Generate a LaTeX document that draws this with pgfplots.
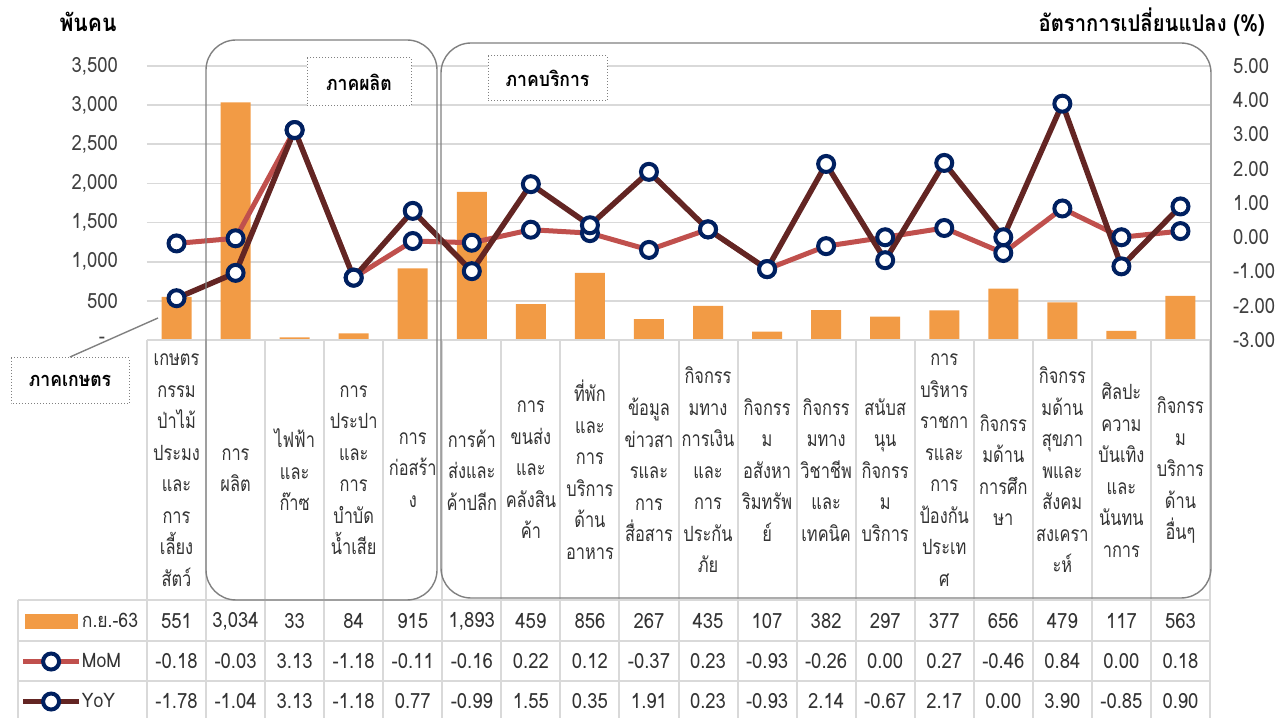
\documentclass[border=0pt]{standalone}
\usepackage{pgfplots}
\pgfplotsset{compat=1.18}
\usepackage{pgfplotstable}
\usepackage{fontspec}
\setmainfont{Loma}[Script=Thai, FakeStretch=0.88]
\newfontfamily\catthai{Loma}[Script=Thai, FakeStretch=0.78]

\definecolor{barorange}{HTML}{F29B45}
\definecolor{momred}{HTML}{C0504D}
\definecolor{yoyred}{HTML}{632523}
\definecolor{navy}{HTML}{002060}
\definecolor{gridgray}{HTML}{D9D9D9}
\definecolor{boxgray}{HTML}{808080}

\newcommand\catfont{\catthai\fontsize{10.5}{15.75}\selectfont}
\newcommand\numfont{\fontsize{10.5}{12}\selectfont}

% x  ก.ย.-63 (พันคน)  MoM (%)  YoY (%)
\pgfplotstableread{
x sep mom yoy
0  551  -0.18 -1.78
1  3034 -0.03 -1.04
2  33    3.13  3.13
3  84   -1.18 -1.18
4  915  -0.11  0.77
5  1893 -0.16 -0.99
6  459   0.22  1.55
7  856   0.12  0.35
8  267  -0.37  1.91
9  435   0.23  0.23
10 107  -0.93 -0.93
11 382  -0.26  2.14
12 297   0.00 -0.67
13 377   0.27  2.17
14 656  -0.46  0.00
15 479   0.84  3.90
16 117   0.00 -0.85
17 563   0.18  0.90
}\datatable

\begin{document}
\begin{tikzpicture}
\path[use as bounding box] (0,0) rectangle (643.5pt,359pt);

% bars, left axis
\begin{axis}[
  at={(73.5pt,189pt)}, anchor=south west,
  scale only axis, width=531.5pt, height=137pt,
  xmin=-0.5, xmax=17.5, ymin=0, ymax=3500,
  xtick=\empty,
  ytick={0,500,...,3500},
  yticklabels={-\hspace*{6.5pt},500,{1,000},{1,500},{2,000},{2,500},{3,000},{3,500}},
  yticklabel style={font=\numfont, text=black!75, xshift=-11pt},
  major tick length=0pt,
  axis line style={draw=none},
  ymajorgrids, grid style={gridgray, line width=0.8pt},
  ybar, bar width=15pt,
]
\addplot[fill=barorange, draw=none] table[x=x, y=sep] {\datatable};
\end{axis}

% lines, right axis
\begin{axis}[
  at={(73.5pt,189pt)}, anchor=south west,
  scale only axis, width=531.5pt, height=137pt,
  xmin=-0.5, xmax=17.5, ymin=-3, ymax=5,
  hide x axis,
  axis y line*=right,
  axis line style={draw=none},
  major tick length=0pt,
  ytick={-3,-2,...,5},
  yticklabels={-3.00,-2.00,-1.00,0.00,1.00,2.00,3.00,4.00,5.00},
  yticklabel style={font=\numfont, text=black!75, xshift=8pt},
  clip=false,
  legend cell align=left,
  legend style={at={(axis description cs:-0.1195,-0.953)}, anchor=north west,
    draw=none, fill=none, inner sep=0pt, row sep=0pt, column sep=0pt,
    nodes={inner sep=0pt, minimum height=20pt, font=\fontsize{10}{12}\selectfont, text=black!80}},
  legend image code/.code={\draw[mark repeat=2,mark phase=2,#1]
    plot coordinates {(0pt,0pt) (14pt,0pt) (28pt,0pt)};},
]
\addlegendimage{legend image code/.code={\fill[barorange] (1pt,-3.5pt) rectangle (27pt,3.5pt);}}
\addlegendentry{ก.ย.-63}
\addplot[momred, line width=2.5pt, mark=*, mark size=4pt,
  mark options={draw=navy, fill=white, line width=2pt}]
  table[x=x, y=mom] {\datatable};
\addlegendentry{MoM}
\addplot[yoyred, line width=2.75pt, mark=*, mark size=4pt,
  mark options={draw=navy, fill=white, line width=2pt}]
  table[x=x, y=yoy] {\datatable};
\addlegendentry{YoY}
\end{axis}

% table and annotations, in pixel coordinates of the reference
\begin{scope}[x=0.5pt, y=-0.5pt, shift={(0pt,359pt)}]
\foreach \k in {0,...,18}
  \draw[gridgray, line width=1pt] ({147+59.056*\k},340) -- ({147+59.056*\k},718);
\draw[gridgray, line width=1pt] (18,600) -- (18,718);
\draw[gridgray, line width=1pt] (147,340) -- (1210,340);
\foreach \yy in {600,641,681}
  \draw[gridgray, line width=1pt] (18,\yy) -- (1210,\yy);

\foreach \t [count=\i from 0] in {
  {เกษตร\\กรรม\\ป่าไม้\\ประมง\\และ\\การ\\เลี้ยง\\สัตว์},
  {การ\\ผลิต},
  {ไฟฟ้า\\และ\\ก๊าซ},
  {การ\\ประปา\\และ\\การ\\บำบัด\\น้ำเสีย},
  {การ\\ก่อสร้า\\ง},
  {การค้า\\ส่งและ\\ค้าปลีก},
  {การ\\ขนส่ง\\และ\\คลังสิน\\ค้า},
  {ที่พัก\\และ\\การ\\บริการ\\ด้าน\\อาหาร},
  {ข้อมูล\\ข่าวสา\\รและ\\การ\\สื่อสาร},
  {กิจกรร\\มทาง\\การเงิน\\และ\\การ\\ประกัน\\ภัย},
  {กิจกรร\\ม\\อสังหา\\ริมทรัพ\\ย์},
  {กิจกรร\\มทาง\\วิชาชีพ\\และ\\เทคนิค},
  {สนับส\\นุน\\กิจกรร\\ม\\บริการ},
  {การ\\บริหาร\\ราชกา\\รและ\\การ\\ป้องกัน\\ประเท\\ศ},
  {กิจกรร\\มด้าน\\การศึก\\ษา},
  {กิจกรร\\มด้าน\\สุขภา\\พและ\\สังคม\\สงเครา\\ะห์},
  {ศิลปะ\\ความ\\บันเทิง\\และ\\นันทน\\าการ},
  {กิจกรร\\ม\\บริการ\\ด้าน\\อื่นๆ}}
  \node[align=center, font=\catfont, text=black!80, inner sep=0pt] at ({147+59.056*(\i+0.5)},470) {\t};

\foreach \v [count=\i from 0] in {551,{3,034},33,84,915,{1,893},459,856,267,435,107,382,297,377,656,479,117,563}
  \node[font=\numfont, text=black!80] at ({147+59.056*(\i+0.5)},621) {\v};
\foreach \v [count=\i from 0] in {-0.18,-0.03,3.13,-1.18,-0.11,-0.16,0.22,0.12,-0.37,0.23,-0.93,-0.26,0.00,0.27,-0.46,0.84,0.00,0.18}
  \node[font=\numfont, text=black!80] at ({147+59.056*(\i+0.5)},661) {\v};
\foreach \v [count=\i from 0] in {-1.78,-1.04,3.13,-1.18,0.77,-0.99,1.55,0.35,1.91,0.23,-0.93,2.14,-0.67,2.17,0.00,3.90,-0.85,0.90}
  \node[font=\numfont, text=black!80] at ({147+59.056*(\i+0.5)},701) {\v};

% sector frames
\draw[boxgray, line width=0.7pt, rounded corners=15pt] (206,40) rectangle (437,600);
\draw[boxgray, line width=0.7pt, rounded corners=15pt] (441,43) rectangle (1211,598);

% sector labels
\draw[boxgray, densely dotted, line width=0.5pt, fill=white] (307,58) rectangle (411,106);
\node[font=\bfseries\fontsize{10}{12}\selectfont] at (359,82) {ภาคผลิต};
\draw[boxgray, densely dotted, line width=0.5pt, fill=white] (488,56) rectangle (607,101);
\node[font=\bfseries\fontsize{10}{12}\selectfont] at (547.5,78.5) {ภาคบริการ};
\draw[boxgray, line width=0.7pt] (70,357) -- (158,318);
\draw[boxgray, densely dotted, line width=0.5pt, fill=white] (11,358) rectangle (129,404);
\node[font=\bfseries\fontsize{10}{12}\selectfont] at (70,381) {ภาคเกษตร};

% axis titles
\node[font=\bfseries\fontsize{12}{14}\selectfont] at (88,22) {พันคน};
\node[anchor=east, font=\bfseries\fontsize{11.5}{13}\selectfont] at (1272,22) {อัตราการเปลี่ยนแปลง (\%)};
\end{scope}
\end{tikzpicture}
\end{document}
